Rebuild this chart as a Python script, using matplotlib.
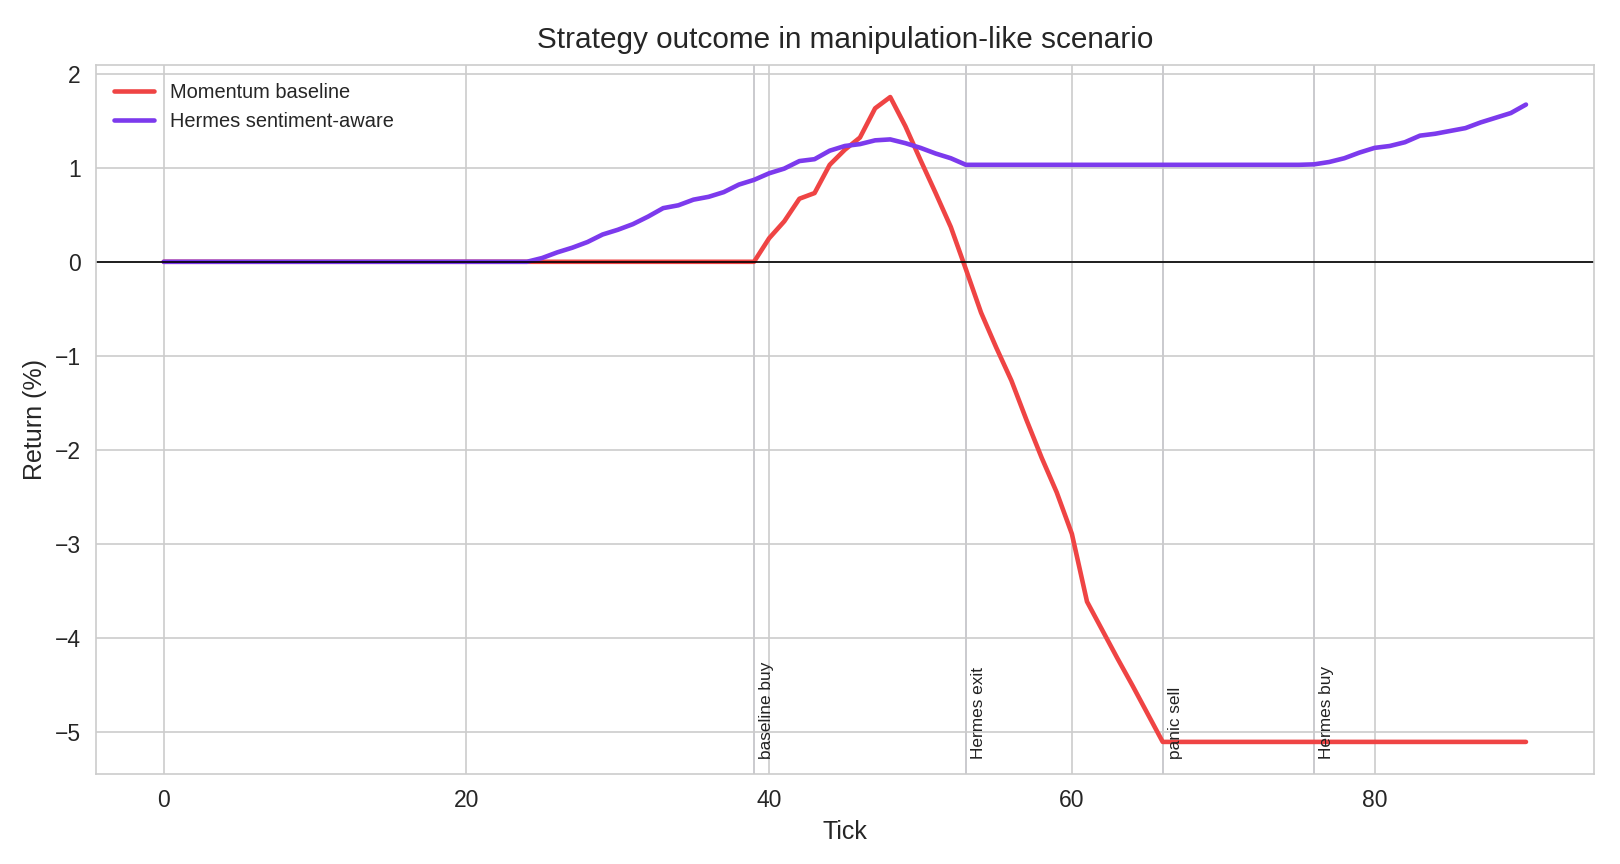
import matplotlib
matplotlib.use("Agg")
import matplotlib.pyplot as plt
import seaborn as sns

# tick index and returns (%)
ticks = list(range(91))

momentum = ([0.0] * 39 +
            [0.0, 0.25, 0.43, 0.67, 0.73, 1.03, 1.19, 1.32, 1.63, 1.75,
             1.44, 1.08, 0.73, 0.37, -0.08, -0.54, -0.91, -1.26, -1.68, -2.08,
             -2.45, -2.89, -3.61, -3.91, -4.21, -4.50, -4.80] +
            [-5.10] * 25)

hermes = ([0.0] * 24 +
          [0.0, 0.04, 0.10, 0.15, 0.21, 0.29, 0.34, 0.40, 0.48, 0.57,
           0.60, 0.66, 0.69, 0.74, 0.82, 0.87, 0.94, 0.99, 1.07, 1.09,
           1.18, 1.23, 1.25, 1.29, 1.30, 1.26, 1.21, 1.15, 1.10] +
          [1.03] * 23 +
          [1.035, 1.06, 1.10, 1.16, 1.21, 1.23, 1.27, 1.34, 1.36, 1.39,
           1.42, 1.48, 1.53, 1.58, 1.67])

event_ticks = [39, 53, 66, 76]
event_labels = ["baseline buy", "Hermes exit", "panic sell", "Hermes buy"]

sns.set_style("whitegrid")
plt.rcParams['font.family'] = ['Liberation Sans', 'DejaVu Sans']

fig, ax = plt.subplots(figsize=(10.8, 5.76), dpi=150)
ax.plot(ticks, momentum, color="#ef4444", lw=2.2, label="Momentum baseline")
ax.plot(ticks, hermes, color="#7c3aed", lw=2.2, label="Hermes sentiment-aware")
ax.axhline(0, color="black", lw=0.8)

ymin = ax.get_ylim()[0]
for t, lab in zip(event_ticks, event_labels):
    ax.axvline(t, color="#c8c8cc", lw=0.9, zorder=0)
    ax.text(t + 0.35, ymin * 0.97, lab, rotation=90, va="bottom", ha="left",
            fontsize=8.3, color="#222222")

ax.set_title("Strategy outcome in manipulation-like scenario", fontsize=14.3, pad=8)
ax.set_xlabel("Tick", fontsize=12)
ax.set_ylabel("Return (%)", fontsize=12)
ax.tick_params(labelsize=11)
ax.legend(loc="upper left", fontsize=9.6, frameon=False)
fig.subplots_adjust(left=0.059, right=0.984, top=0.925, bottom=0.104)
fig.savefig("out.png", dpi=150)
